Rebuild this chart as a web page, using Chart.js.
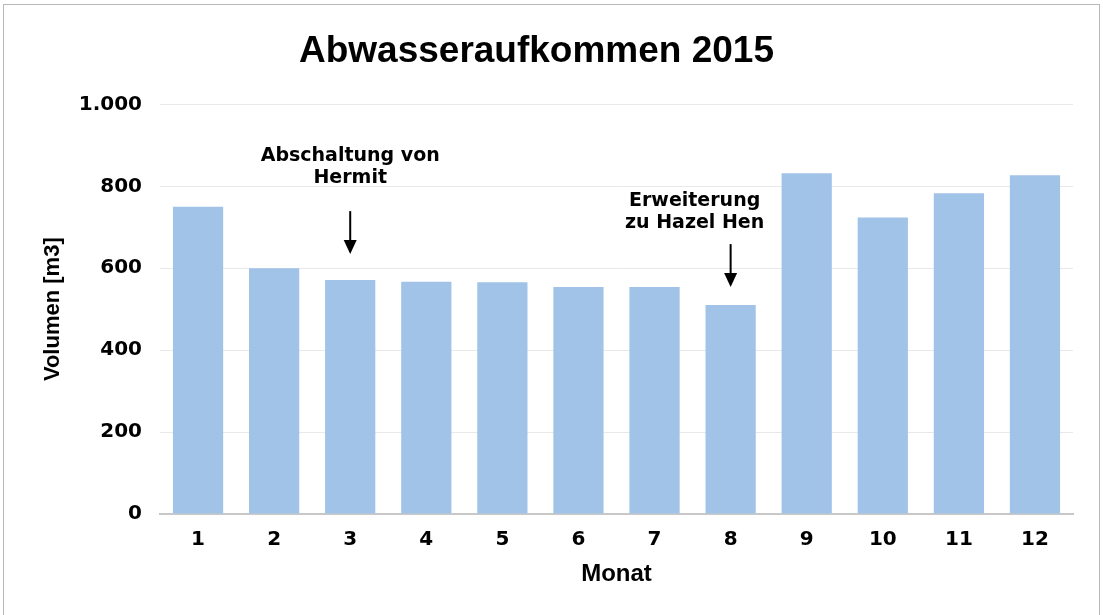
<!DOCTYPE html>
<html>
<head>
<meta charset="utf-8">
<script src="https://cdn.jsdelivr.net/npm/chart.js@4.4.0/dist/chart.umd.min.js"></script>
<style>
  html, body { margin: 0; padding: 0; background: #fff; overflow: hidden; }
  #wrap { position: absolute; left: 0; top: 0; width: 1103px; height: 615px; }
  #frame { position: absolute; left: 3px; top: 4px; width: 1097px; height: 620px; border: 1px solid #b8b8b8; box-sizing: border-box; pointer-events: none; }
  canvas { display: block; }
</style>
</head>
<body>
<div id="wrap"><canvas id="myChart"></canvas></div>
<div id="frame"></div>
<script>
// data
var months = ['1', '2', '3', '4', '5', '6', '7', '8', '9', '10', '11', '12'];
var volumen = [750, 600, 571, 567, 566, 554, 554, 510, 832, 724, 783, 827];
var noteMonths = ['3', '8'];
var noteTexts = [['Abschaltung von', 'Hermit'], ['Erweiterung', 'zu Hazel Hen']];

var wideFont = "'DejaVu Sans', sans-serif";
var plainFont = "'Liberation Sans', Arial, sans-serif";

// draws the notes with an arrow pointing down at the bar
var notesPlugin = {
  id: 'notes',
  afterDatasetsDraw: function (chart, args, opts) {
    var ctx = chart.ctx;
    var x = chart.scales.x, y = chart.scales.y;
    ctx.save();
    ctx.fillStyle = '#000';
    ctx.strokeStyle = '#000';
    ctx.font = 'bold 19px ' + wideFont;
    ctx.textAlign = 'center';
    ctx.textBaseline = 'middle';
    for (var i = 0; i < noteMonths.length; i++) {
      var idx = months.indexOf(noteMonths[i]);
      var lay = opts.layout[i];
      var px = x.getPixelForValue(idx);
      var tipY = y.getPixelForValue(volumen[idx]) - lay.gap;
      var tailY = tipY - 43;
      var lines = noteTexts[i];
      var ty = tailY - lay.textGap - (lines.length - 1) * 22;
      for (var k = 0; k < lines.length; k++) {
        ctx.fillText(lines[k], px + lay.dx, ty + k * 22);
      }
      ctx.lineWidth = 2;
      ctx.beginPath();
      ctx.moveTo(px, tailY);
      ctx.lineTo(px, tipY - 10);
      ctx.stroke();
      ctx.beginPath();
      ctx.moveTo(px - 6.5, tipY - 14);
      ctx.lineTo(px + 6.5, tipY - 14);
      ctx.lineTo(px, tipY);
      ctx.closePath();
      ctx.fill();
    }
    ctx.restore();
  }
};

var myChart = document.getElementById('myChart').getContext('2d');
var chart = new Chart(myChart, {
  type: 'bar',
  data: {
    labels: months,
    datasets: [{
      label: 'Volumen',
      data: volumen,
      backgroundColor: '#a0c3e7',
      borderWidth: 0,
      categoryPercentage: 1,
      barPercentage: 0.66
    }]
  },
  options: {
    responsive: true,
    maintainAspectRatio: false,
    animation: false,
    locale: 'de-DE',
    layout: { padding: { left: 0, right: 30, top: 0, bottom: 0 } },
    plugins: {
      legend: { display: false },
      tooltip: { enabled: false },
      notes: {
        layout: [
          { gap: 26, textGap: 33, dx: 0 },
          { gap: 18, textGap: 21, dx: -36 }
        ]
      },
      title: {
        display: true,
        text: 'Abwasseraufkommen 2015',
        color: '#000',
        font: { family: plainFont, size: 37, weight: 'bold' },
        padding: { top: 30, bottom: 30 }
      }
    },
    scales: {
      x: {
        grid: { display: false, drawTicks: false },
        border: { color: '#c8c8c8', width: 2 },
        ticks: { color: '#000', font: { family: wideFont, size: 20, weight: 'bold' }, padding: 14 },
        title: {
          display: true,
          text: 'Monat',
          color: '#000',
          font: { family: plainFont, size: 24, weight: 'bold' },
          padding: { top: 0, bottom: 26 }
        },
        afterFit: function (scale) { scale.height = 101; }
      },
      y: {
        min: 0,
        max: 1000,
        grid: { color: '#e8e8e8', lineWidth: 1, drawTicks: false },
        border: { display: false },
        ticks: {
          stepSize: 200,
          color: '#000',
          padding: 18,
          font: { family: wideFont, size: 20, weight: 'bold' }
        },
        title: {
          display: true,
          text: 'Volumen [m3]',
          color: '#000',
          font: { family: plainFont, size: 22, weight: 'bold' },
          padding: { top: 40, bottom: 0 }
        },
        afterFit: function (scale) { scale.width = 160; }
      }
    }
  },
  plugins: [notesPlugin]
});
</script>
</body>
</html>
